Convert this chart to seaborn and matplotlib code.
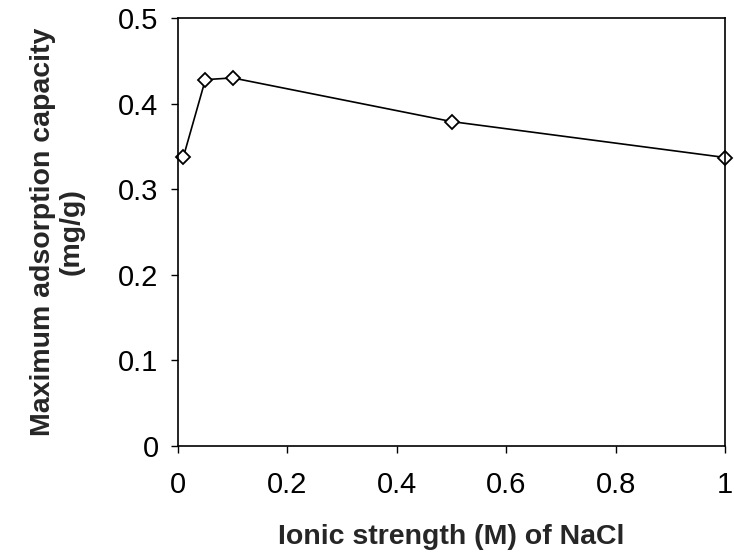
import matplotlib
matplotlib.use("Agg")
import matplotlib.pyplot as plt
import seaborn as sns
import pandas as pd
from matplotlib.ticker import FuncFormatter

# data
ionic_strength = [0.01, 0.05, 0.1, 0.5, 1.0]
max_capacity = [0.338, 0.428, 0.430, 0.379, 0.337]

df = pd.DataFrame({"ionic": ionic_strength, "capacity": max_capacity})

sns.set_style("ticks")
plt.rcParams["font.family"] = ["Liberation Sans", "DejaVu Sans"]

fig = plt.figure(figsize=(7.34, 5.56), dpi=100)
ax = fig.add_axes([0.2425, 0.198, 0.7455, 0.7696])

sns.lineplot(
    data=df, x="ionic", y="capacity", ax=ax,
    color="black", linewidth=1.2,
    marker="D", markersize=7, markerfacecolor="white",
    markeredgecolor="black", markeredgewidth=1.3,
    clip_on=False,
)

ax.set_xlim(0, 1)
ax.set_ylim(0, 0.5)
ax.set_xticks([0, 0.2, 0.4, 0.6, 0.8, 1.0])
ax.set_yticks([0, 0.1, 0.2, 0.3, 0.4, 0.5])
fmt = FuncFormatter(lambda v, p: "%g" % round(v, 2))
ax.xaxis.set_major_formatter(fmt)
ax.yaxis.set_major_formatter(fmt)

ax.tick_params(direction="out", length=5, width=1, labelsize=21, colors="black")
ax.tick_params(axis="x", pad=13)
ax.tick_params(axis="y", pad=9)
for s in ax.spines.values():
    s.set_visible(True)
    s.set_linewidth(1.2)
    s.set_color("black")

ax.set_xlabel("Ionic strength (M) of NaCl", fontsize=20.5, fontweight="bold", labelpad=18)
ax.set_ylabel("Maximum adsorption capacity\n(mg/g)", fontsize=20.5, fontweight="bold",
              labelpad=24, linespacing=1.15)

fig.savefig("out.png", dpi=100, facecolor="white")
